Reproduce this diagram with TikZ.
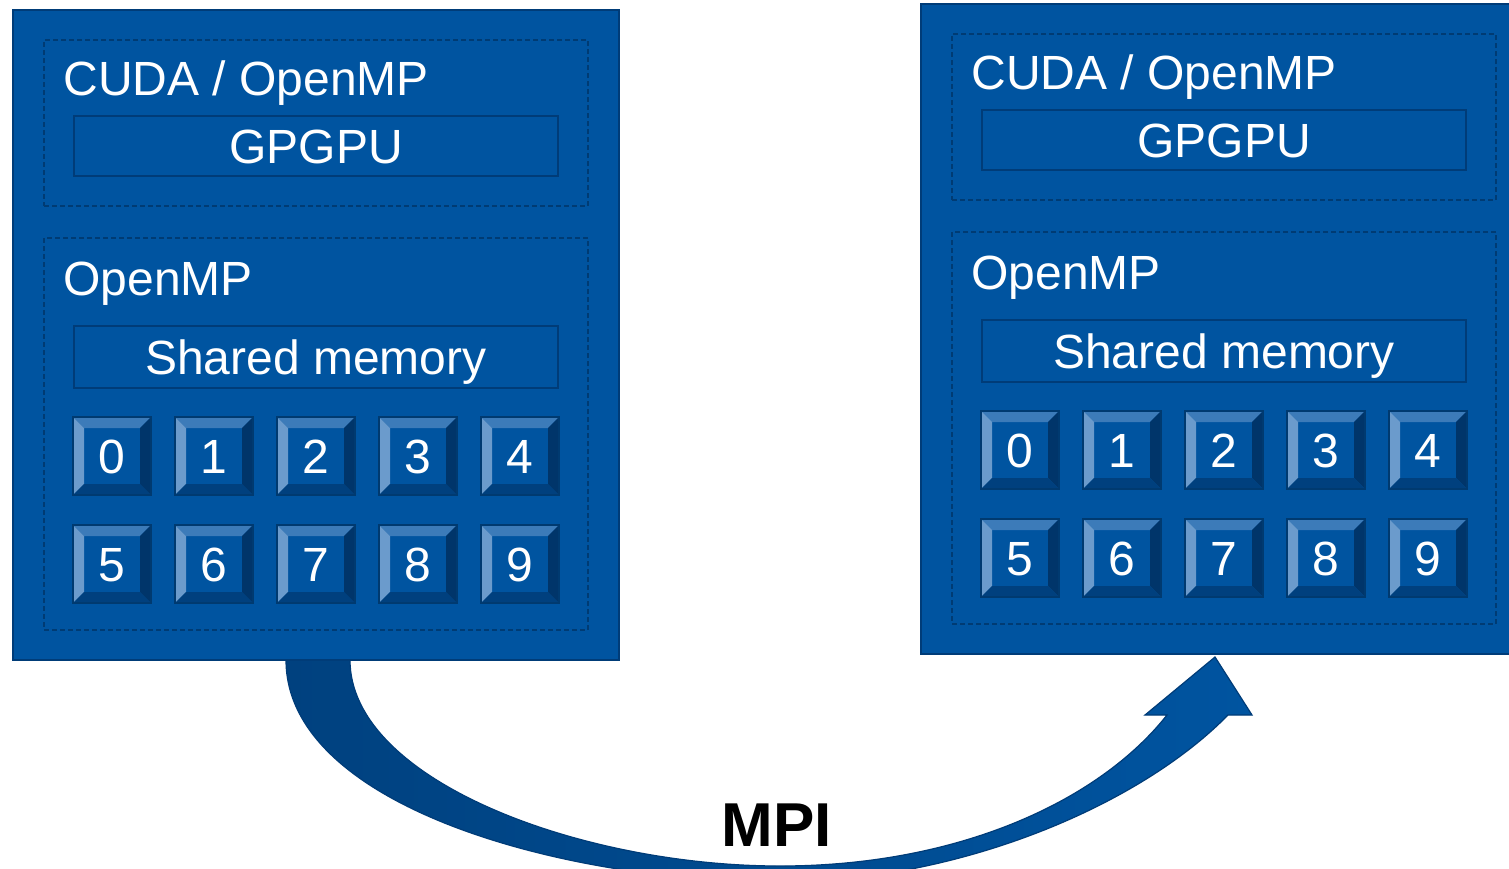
\documentclass[tikz,border=0pt]{standalone}
\usepackage{fontspec}
\setmainfont{Liberation Sans}
\usetikzlibrary{calc}
\definecolor{panelblue}{HTML}{0054A0}
\definecolor{edgeblue}{HTML}{003C78}
\definecolor{dashblue}{HTML}{003B73}
\definecolor{keyedge}{HTML}{003A70}
\definecolor{bevtop}{HTML}{3C7BB9}
\definecolor{bevleft}{HTML}{6B9BCC}
\definecolor{bevright}{HTML}{00356A}
\definecolor{bevbottom}{HTML}{00407E}
\definecolor{arrowdark}{HTML}{00417F}
\newcommand\mainsize{\fontsize{24}{28}\selectfont}
\tikzset{
  panel/.style={draw=edgeblue, line width=1pt, fill=panelblue,
    minimum width=303pt, minimum height=325pt, inner sep=0pt},
  dashbox/.style={draw=dashblue, line width=0.75pt,
    dash pattern=on 2.5pt off 1.5pt, inner sep=0pt},
  membox/.style={draw=edgeblue, line width=0.8pt, fill=panelblue,
    minimum width=242pt, inner sep=0pt, text=white, font=\mainsize,
    text height=17.2pt, text depth=0pt},
  headtext/.style={anchor=base west, inner sep=0pt, text=white, font=\mainsize},
  keycap/.style={minimum width=39pt, minimum height=39pt, inner sep=0pt,
    fill=panelblue, draw=keyedge, line width=0.6pt, text=white,
    font=\mainsize, text height=17pt, text depth=0pt,
    path picture={
      \fill[bevtop] (path picture bounding box.north west)
        -- (path picture bounding box.north east)
        -- ([shift={(-5.5pt,-5.5pt)}]path picture bounding box.north east)
        -- ([shift={(5.5pt,-5.5pt)}]path picture bounding box.north west) -- cycle;
      \fill[bevleft] (path picture bounding box.north west)
        -- (path picture bounding box.south west)
        -- ([shift={(5.5pt,5.5pt)}]path picture bounding box.south west)
        -- ([shift={(5.5pt,-5.5pt)}]path picture bounding box.north west) -- cycle;
      \fill[bevright] (path picture bounding box.north east)
        -- (path picture bounding box.south east)
        -- ([shift={(-5.5pt,5.5pt)}]path picture bounding box.south east)
        -- ([shift={(-5.5pt,-5.5pt)}]path picture bounding box.north east) -- cycle;
      \fill[bevbottom] (path picture bounding box.south west)
        -- (path picture bounding box.south east)
        -- ([shift={(-5.5pt,5.5pt)}]path picture bounding box.south east)
        -- ([shift={(5.5pt,5.5pt)}]path picture bounding box.south west) -- cycle;
    }},
  cluster/.pic={
    \node[panel] (-panel) at (316,335) {};
    \node[dashbox, minimum width=272pt, minimum height=83pt] (-gpuzone) at (316,123) {};
    \node[headtext] (-cuda) at (63,95) {CUDA / OpenMP};
    \node[membox, minimum height=30pt] (-gpgpu) at (316,146) {GPGPU};
    \node[dashbox, minimum width=272pt, minimum height=196pt] (-cpuzone) at (316,434) {};
    \node[headtext] (-omp) at (63,295) {OpenMP};
    \node[membox, minimum height=31pt] (-shm) at (316,357) {Shared memory};
    \foreach \i in {0,...,4} {
      \node[keycap] (-k\i) at ({112+102*\i},456) {\i};
    }
    \foreach \i in {5,...,9} {
      \node[keycap] (-k\i) at ({112+102*(\i-5)},564) {\i};
    }
  }
}
\begin{document}
\begin{tikzpicture}[x=0.5pt, y=-0.5pt]
  \useasboundingbox (0,0) rectangle (1509,868);
  \clip (0,0) rectangle (1509,868);
  \fill[white] (0,0) rectangle (1509,868);
  % MPI arrow
  \coordinate (tailL) at (286,660);
  \coordinate (tailR) at (350,660);
  \coordinate (tip) at (1215,657);
  \path[draw=edgeblue, line width=0.6pt, left color=arrowdark, right color=panelblue]
    (tailL) .. controls (286,805) and (560,882) .. (780,882)
    .. controls (960,882) and (1140,805) .. (1228,715)
    -- (1252,715) -- (tip) -- (1145,715) -- (1167,715)
    .. controls (1100,800) and (960,866) .. (780,866)
    .. controls (580,866) and (350,780) .. (tailR) -- cycle;
  % the two nodes
  \pic (A) at (0,0) {cluster};
  \pic (B) at (908,-6) {cluster};
  \node[anchor=base, inner sep=0pt, font=\fontsize{31}{36}\selectfont\bfseries] (mpi) at (777,846) {MPI};
\end{tikzpicture}
\end{document}
